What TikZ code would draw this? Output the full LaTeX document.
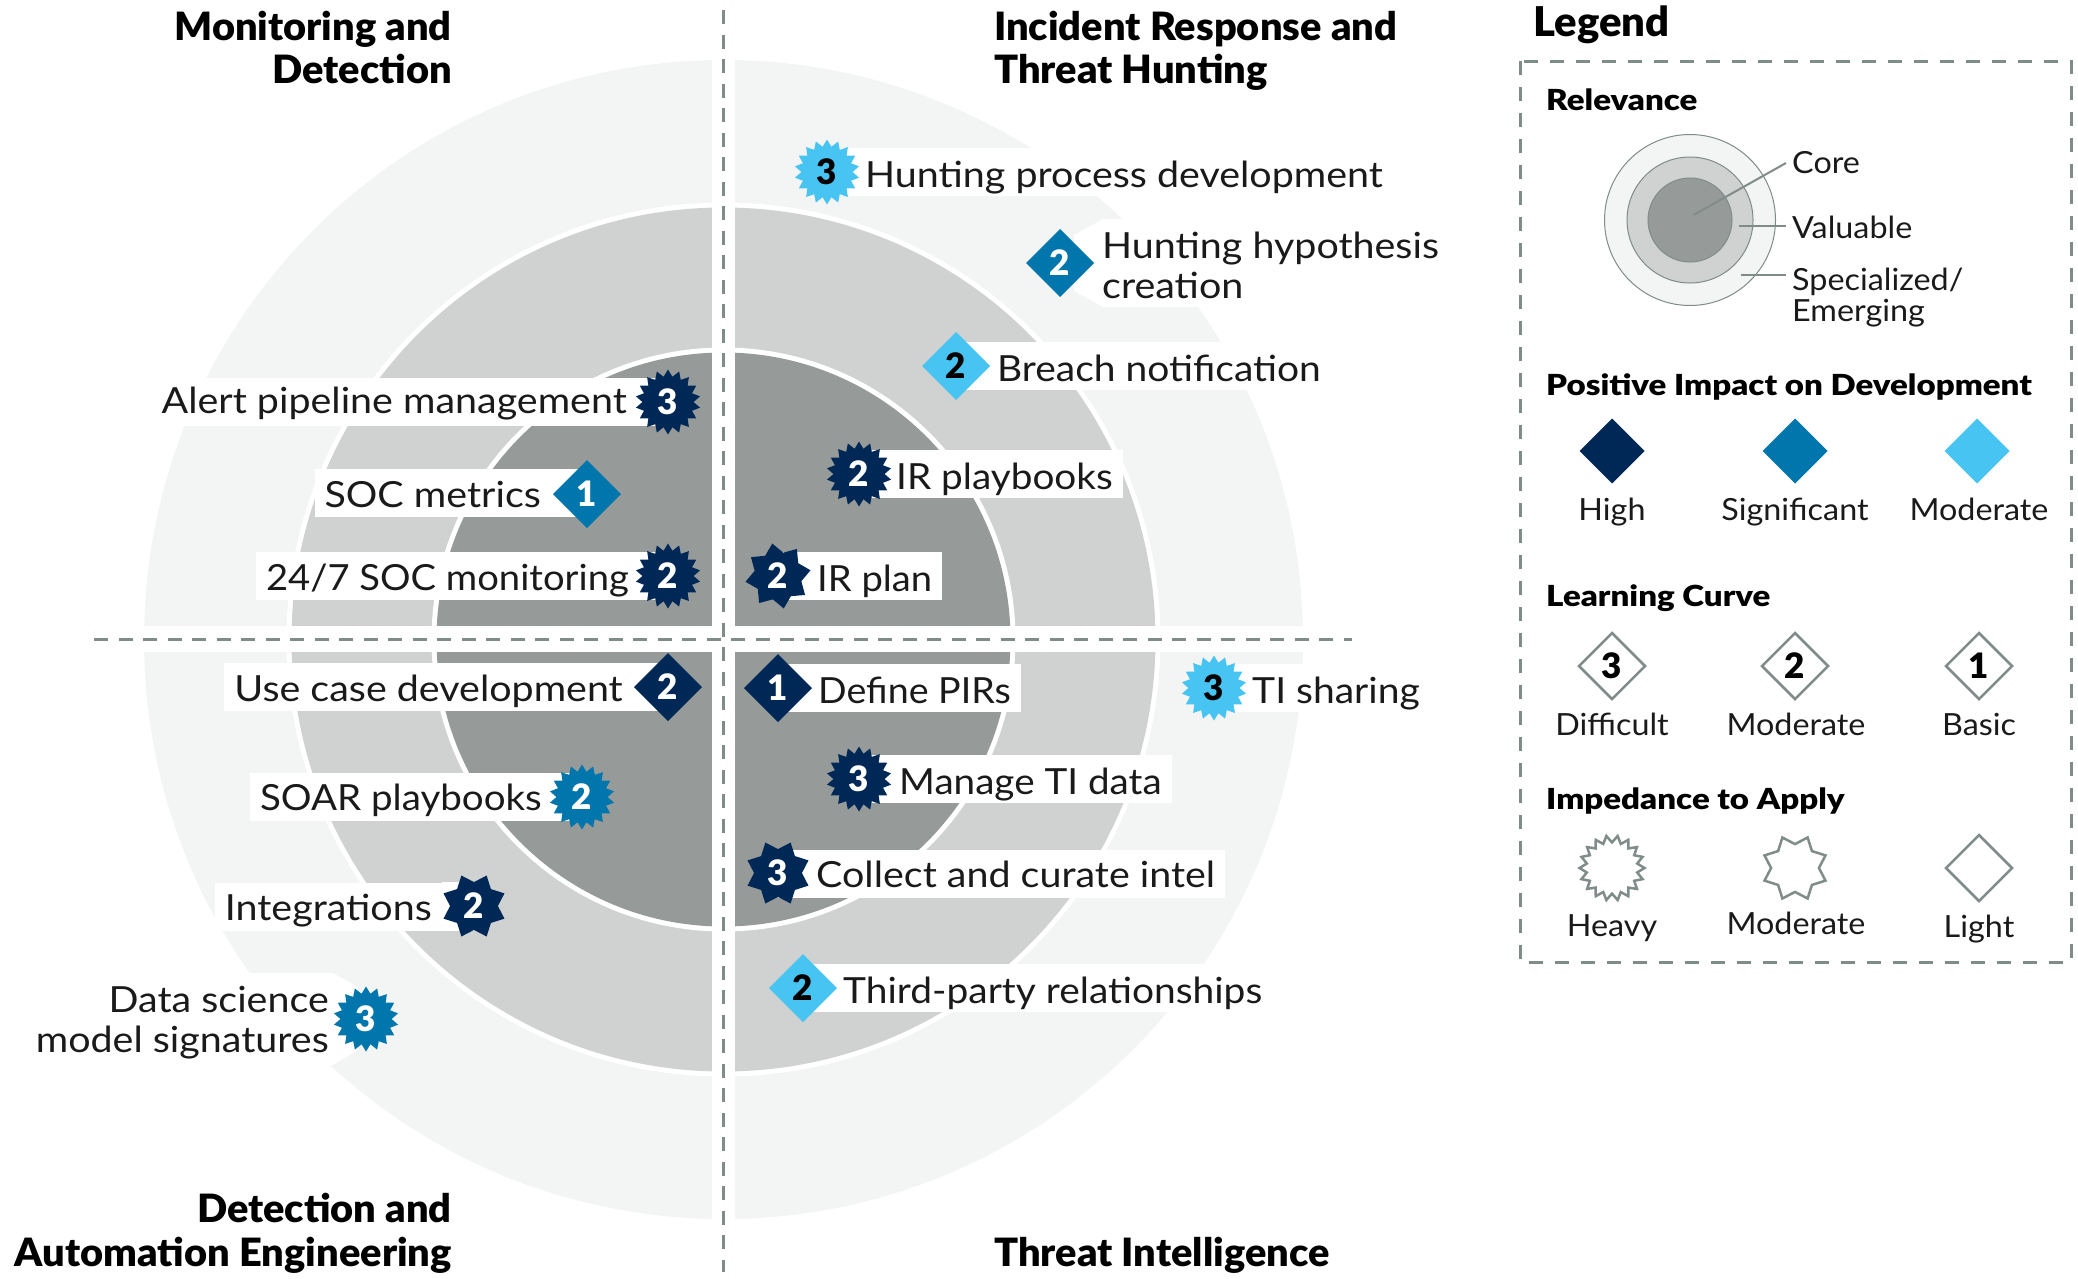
\documentclass[tikz,border=0pt]{standalone}
\usepackage{fontspec}
\usepackage{graphicx}
\setmainfont{Lato}
\newfontfamily\labfam{Lato}[FakeStretch=1.095]
\newfontfamily\legfam{Lato}[FakeStretch=1.06]
\newfontfamily\blackfont{Lato Black}
\newfontfamily\headfam{Lato Black}[FakeStretch=1.02]
\newfontfamily\subfam{Lato Black}[FakeStretch=1.14]
\usetikzlibrary{shapes.geometric}
\definecolor{ringa}{HTML}{F3F4F4}
\definecolor{ringb}{HTML}{D0D1D1}
\definecolor{ringc}{HTML}{969B9A}
\definecolor{dashc}{HTML}{7F8C8A}
\definecolor{navyc}{HTML}{002856}
\definecolor{sigc}{HTML}{0076AD}
\definecolor{litec}{HTML}{48C4F2}
\definecolor{ink}{HTML}{1A1A1A}
\newcommand{\labfont}{\labfam\fontsize{36}{40}\selectfont}
\newcommand{\legfont}{\legfam\fontsize{30.5}{32}\selectfont}
\newcommand{\headfont}{\headfam\fontsize{39}{43}\selectfont}
\newcommand{\subfont}{\subfam\fontsize{29}{32}\selectfont}
\newcommand{\digfont}{\blackfont\fontsize{35}{36}\selectfont}
\newcommand{\sq}[2]{\scalebox{#1}[1]{#2}}
\tikzset{
  lab/.style={fill=white,inner xsep=10pt,inner ysep=0pt,minimum height=48pt,text height=26pt,text depth=0pt,font=\labfont,text=ink},
  labtwo/.style={inner xsep=10pt,inner ysep=0pt,font=\labfont,text=ink},
  badge/.style={inner sep=0pt,outer sep=0pt,font=\digfont,text height=25pt,text depth=0pt},
  dia/.style={badge,diamond,minimum width=68pt,minimum height=68pt},
  hvy/.style={badge,star,star points=18,star point ratio=1.27,minimum size=65pt},
  mod/.style={badge,star,star points=8,star point ratio=1.38,shape border rotate=22.5,minimum size=66pt},
  fnavy/.style={fill=navyc,text=white},
  fsig/.style={fill=sigc,text=white},
  flite/.style={fill=litec,text=black},
  outl/.style={draw=dashc,line width=2.5pt,fill=white,text=black},
  sep/.style={dashc,line width=3pt,dash pattern=on 14pt off 10.5pt},
  leg/.style={font=\legfont,text=ink,inner sep=0pt},
  sub/.style={font=\subfont,text=black,inner sep=0pt,anchor=base west},
  head/.style={font=\headfont,text=black,inner sep=0pt},
  ringleg/.style={circle,draw=dashc,line width=1pt,inner sep=0pt},
  lead/.style={dashc,line width=2pt},
}
\newcommand{\itemR}[8]{%
  \node[lab,text height=30pt,anchor=west] (#1l) at (#6-10,#7) {#8};
  \coordinate (#1c) at (#2,#3);
  \fill[white] (#1l.north west) rectangle (#1c |- #1l.south);
  \node[#4] (#1) at (#1c) {#5};
}
\newcommand{\itemL}[8]{%
  \node[lab,text height=28pt,anchor=east] (#1l) at (#6+10,#7) {#8};
  \coordinate (#1c) at (#2,#3);
  \fill[white] (#1l.north east) rectangle (#1c |- #1l.south);
  \node[#4] (#1) at (#1c) {#5};
}
\begin{document}
\begin{tikzpicture}[x=1pt,y=-1pt]
\useasboundingbox (0,0) rectangle (2078,1278);
% rings
\coordinate (O) at (723.5,639.5);
\fill[ringa] (O) circle[radius=579.5pt];
\fill[white] (O) circle[radius=437pt];
\fill[ringb] (O) circle[radius=432pt];
\fill[white] (O) circle[radius=292pt];
\fill[ringc] (O) circle[radius=287pt];
\fill[white] (712,40) rectangle (735,1240);
\fill[white] (90,626) rectangle (1360,652);
% right side items
\fill[white] (1103,219) -- (1074,235) -- (1074,291) -- (1103,307) -- cycle;
\fill[white] (1103,219) rectangle (1445,307);
\node[labtwo,anchor=west,align=left] (hypl) at (1092,265) {Hunting hypothesis\\creation};
\node[dia,fsig] (hyp) at (1060,263) {2};
\itemR{hunt}{827}{172}{hvy,flite}{3}{865}{172}{Hunting process development}
\itemR{breach}{956}{366}{dia,flite}{2}{997}{366}{\sq{.988}{Breach notification}}
\itemR{irpb}{859}{474}{hvy,fnavy}{2}{896}{474}{\sq{.982}{IR playbooks}}
\itemR{irplan}{778}{576}{mod,fnavy,shape border rotate=10}{2}{817}{576}{\sq{.967}{IR plan}}
\itemR{pirs}{778}{688}{dia,fnavy}{1}{818}{688}{\sq{.954}{Define PIRs}}
\itemR{tidata}{859}{779}{hvy,fnavy}{3}{899}{779}{\sq{.98}{Manage TI data}}
\itemR{intel}{778}{873}{mod,fnavy}{3}{816}{874}{\raisebox{1.5pt}{Collect and curate intel}}
\itemR{third}{803}{988}{dia,flite}{2}{843}{988}{\sq{.987}{Third-party relationships}}
\itemR{tishare}{1214}{688}{hvy,flite}{3}{1252}{688}{\sq{.99}{TI sharing}}
% left side items
\itemL{alert}{668}{402}{hvy,fnavy}{3}{627}{402}{\raisebox{2.5pt}{Alert pipeline management}}
\itemL{soc}{587}{494}{dia,fsig}{1}{541}{493}{SOC metrics}
\itemL{mon}{668}{576}{hvy,fnavy}{2}{629}{576}{\sq{.968}{24/7 SOC monitoring}}
\itemL{usec}{668}{687}{dia,fnavy}{2}{623}{687}{Use case development}
\itemL{soar}{582}{797}{hvy,fsig}{2}{542}{797}{\raisebox{1pt}{\sq{.977}{SOAR playbooks}}}
\itemL{integ}{474}{906}{mod,fnavy}{2}{432}{906.5}{Integrations}
\fill[white] (333,973) -- (358,987) -- (358,1050) -- (333,1065) -- cycle;
\fill[white] (20,973) rectangle (333,1065);
\node[labtwo,anchor=east,align=right] (dsl) at (339,1023) {Data science\\model signatures};
\node[hvy,fsig] (ds) at (366,1019) {3};
% separators
\coordinate (vt) at (723.5,10);
\coordinate (vb) at (723.5,1272);
\coordinate (hl) at (94,639);
\coordinate (hr) at (1352,639);
\draw[sep] (vt) -- (vb);
\draw[sep] (hl) -- (hr);
% headers
\node[head,anchor=base east] (h1a) at (452,40) {Monitoring and};
\node[head,anchor=base east] (h1b) at (452,83) {Detection};
\node[head,anchor=base west] (h2a) at (994,40) {Incident Response and};
\node[head,anchor=base west] (h2b) at (994,83) {Threat Hunting};
\node[head,anchor=base east] (h3a) at (452,1222) {Detection and};
\node[head,anchor=base east] (h3b) at (452,1266) {Automation Engineering};
\node[head,anchor=base west] (h4) at (994,1266) {Threat Intelligence};
\node[head,font=\headfam\fontsize{41}{43}\selectfont,anchor=base west] (legt) at (1533,36) {Legend};
% legend
\draw[dashc,line width=3pt,dash pattern=on 14pt off 12pt] (1520,61) rectangle (2071,962);
\node[sub] (s1) at (1546,110) {Relevance};
\node[ringleg,fill=ringa,minimum size=171pt] (r1) at (1690,220) {};
\node[ringleg,fill=ringb,minimum size=126pt] (r2) at (1690,220) {};
\node[ringleg,fill=ringc,minimum size=84pt] (r3) at (1690,220) {};
\node[leg,anchor=base west] (lcore) at (1792,173) {Core};
\node[leg,anchor=base west] (lval) at (1792,238) {Valuable};
\node[leg,anchor=base west] (lspec) at (1792,290) {Specialized/};
\node[leg,anchor=base west] (lem) at (1792,321) {Emerging};
\coordinate (e1) at (1693.5,215);
\coordinate (e2) at (1739,226);
\coordinate (e3) at (1741,275);
\coordinate (t1) at (1786,163);
\coordinate (t2) at (1786,226);
\coordinate (t3) at (1786,275);
\draw[lead] (e1) -- (t1);
\draw[lead] (e2) -- (t2);
\draw[lead] (e3) -- (t3);
\node[sub] (s2) at (1546,395) {Positive Impact on Development};
\node[dia,fnavy,minimum width=65pt,minimum height=65pt] (i1) at (1612,451) {};
\node[dia,fsig,minimum width=65pt,minimum height=65pt] (i2) at (1795,451) {};
\node[dia,flite,minimum width=65pt,minimum height=65pt] (i3) at (1977,451) {};
\node[leg,anchor=base] (il1) at (1612,520) {High};
\node[leg,anchor=base] (il2) at (1795,520) {Significant};
\node[leg,anchor=base] (il3) at (1979,520) {Moderate};
\node[sub] (s3) at (1546,606) {Learning Curve};
\node[dia,outl,minimum width=66pt,minimum height=66pt] (c1) at (1612,666) {3};
\node[dia,outl,minimum width=66pt,minimum height=66pt] (c2) at (1795,666) {2};
\node[dia,outl,minimum width=66pt,minimum height=66pt] (c3) at (1979,666) {1};
\node[leg,anchor=base] (cl1) at (1612,735) {Difficult};
\node[leg,anchor=base] (cl2) at (1796,735) {Moderate};
\node[leg,anchor=base] (cl3) at (1979,735) {Basic};
\node[sub] (s4) at (1546,809) {Impedance to Apply};
\node[hvy,outl,shape border rotate=10] (m1) at (1612,868) {};
\node[mod,outl] (m2) at (1795,868) {};
\node[dia,outl,minimum width=66pt,minimum height=66pt] (m3) at (1979,868) {};
\node[leg,anchor=base] (ml1) at (1612,936) {Heavy};
\node[leg,anchor=base] (ml2) at (1796,934) {Moderate};
\node[leg,anchor=base] (ml3) at (1979,937) {Light};
\end{tikzpicture}
\end{document}
